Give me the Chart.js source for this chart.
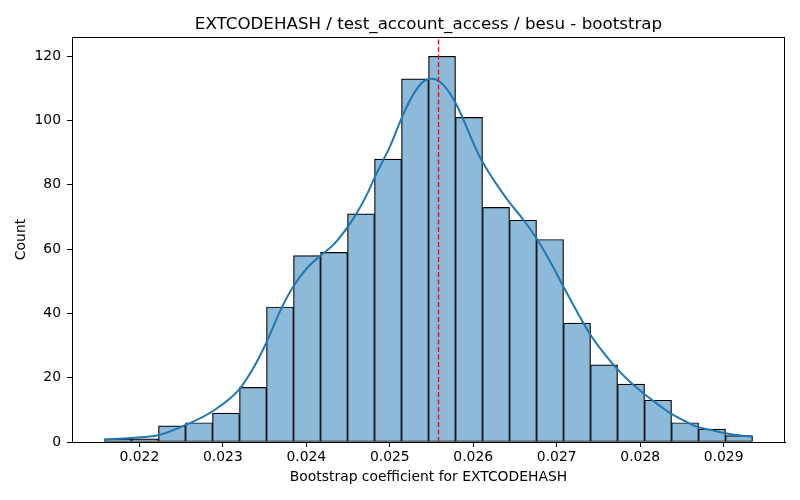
<!DOCTYPE html>
<html>
<head>
<meta charset="utf-8">
<script src="https://cdn.jsdelivr.net/npm/chart.js@4.4.1/dist/chart.umd.min.js"></script>
<style>
  html, body { margin: 0; padding: 0; background: #fff; }
</style>
</head>
<body>
<canvas id="chart" width="800" height="500"></canvas>
<script>
const titleText = 'EXTCODEHASH / test_account_access / besu - bootstrap';
const xLabel = 'Bootstrap coefficient for EXTCODEHASH';
const yLabel = 'Count';

// histogram bins
const binEdges = [
    0.021582, 0.021906, 0.022229, 0.022553, 0.022876, 0.023200, 0.023523, 0.023847,
    0.024170, 0.024494, 0.024817, 0.025141, 0.025464, 0.025788, 0.026111, 0.026435,
    0.026758, 0.027082, 0.027405, 0.027729, 0.028052, 0.028376, 0.028699, 0.029023,
    0.029346
];
const counts = [1, 1, 5, 6, 9, 17, 42, 58, 59, 71, 88, 113, 120, 101, 73, 69, 63, 37, 24, 18, 13, 6, 4, 2];

// kde curve, scaled to counts
const kdeX = [
    0.021582, 0.021901, 0.022223, 0.022546, 0.022868, 0.023191, 0.023374, 0.023514,
    0.023713, 0.023844, 0.024012, 0.024171, 0.024329, 0.024490, 0.024609, 0.024728,
    0.024828, 0.025007, 0.025147, 0.025285, 0.025405, 0.025505, 0.025604, 0.025724,
    0.025843, 0.025963, 0.026082, 0.026201, 0.026321, 0.026440, 0.026596, 0.026751,
    0.026918, 0.027073, 0.027229, 0.027396, 0.027551, 0.027718, 0.027874, 0.028041,
    0.028208, 0.028364, 0.028531, 0.028686, 0.028853, 0.029009, 0.029176, 0.029347
];
const kdeY = [
    0.75, 1.25, 2.1, 5.2, 9.4, 16.2, 23.4, 30.5,
    42.2, 48.4, 54.2, 58.0, 61.5, 66.7, 71.4, 77.1,
    82.8, 92.2, 101.1, 108.3, 112.2, 113.0, 112.0, 108.3,
    102.6, 95.3, 88.5, 83.3, 78.6, 74.3, 69.3, 63.6,
    56.3, 48.7, 41.2, 33.7, 28.1, 22.9, 18.8, 15.1,
    11.8, 8.9, 6.6, 4.7, 3.7, 2.8, 2.1, 1.6
];

const meanValue = 0.025584;

const xTicks = [0.022, 0.023, 0.024, 0.025, 0.026, 0.027, 0.028, 0.029];
const yTicks = [0, 20, 40, 60, 80, 100, 120];
const xMin = 0.021193, xMax = 0.029735;
const yMin = 0, yMax = 126;

const FONT = 'DejaVu Sans';

const bars = counts.map((c, i) => ({x: (binEdges[i] + binEdges[i + 1]) / 2, y: c}));
const kde = kdeX.map((x, i) => ({x, y: kdeY[i]}));

const frameAndTitle = {
    id: 'frameAndTitle',
    afterDraw(chart) {
        const {ctx, chartArea: a} = chart;
        ctx.save();
        ctx.strokeStyle = '#000';
        ctx.lineWidth = 1;
        ctx.strokeRect(Math.round(a.left) + 0.5, Math.round(a.top) + 0.5,
            Math.round(a.right - a.left) - 1, Math.round(a.bottom - a.top));
        ctx.fillStyle = '#000';
        ctx.font = '16.7px "' + FONT + '"';
        ctx.textAlign = 'center';
        ctx.textBaseline = 'alphabetic';
        ctx.fillText(titleText, (a.left + a.right) / 2, 29);
        ctx.restore();
    }
};

new Chart(document.getElementById('chart'), {
    type: 'bar',
    data: {
        datasets: [
            {
                type: 'line', data: [{x: meanValue, y: yMin}, {x: meanValue, y: yMax}],
                borderColor: '#ff0000', borderWidth: 1.3, borderDash: [5, 2.5],
                pointRadius: 0, order: 1
            },
            {
                type: 'line', data: kde, borderColor: '#1f77b4', borderWidth: 2,
                pointRadius: 0, cubicInterpolationMode: 'monotone', order: 2
            },
            {
                type: 'bar', data: bars, backgroundColor: '#8ebad9',
                borderColor: '#000', borderWidth: 1.2, borderSkipped: false,
                barPercentage: 1, categoryPercentage: 1, grouped: false, order: 3
            }
        ]
    },
    options: {
        responsive: false,
        animation: false,
        devicePixelRatio: 1,
        layout: {padding: {top: 37, right: 15, left: 0, bottom: 0}},
        plugins: {legend: {display: false}, tooltip: {enabled: false}, title: {display: false}},
        scales: {
            x: {
                type: 'linear', min: xMin, max: xMax, offset: false,
                afterBuildTicks: s => { s.ticks = xTicks.map(v => ({value: v})); },
                afterFit: s => { s.height = 58; },
                grid: {offset: false, drawOnChartArea: false, drawTicks: true, tickLength: 5, color: '#000'},
                border: {display: true, color: '#000', width: 1},
                ticks: {
                    color: '#000', font: {family: FONT, size: 13.9}, padding: 2,
                    maxRotation: 0, autoSkip: false, callback: v => v.toFixed(3)
                },
                title: {display: true, text: xLabel, color: '#000', font: {family: FONT, size: 13.9},
                    padding: {top: 0, bottom: 14}}
            },
            y: {
                min: yMin, max: yMax,
                afterBuildTicks: s => { s.ticks = yTicks.map(v => ({value: v})); },
                afterFit: s => { s.width = 72; },
                grid: {drawOnChartArea: false, drawTicks: true, tickLength: 5, color: '#000'},
                border: {display: true, color: '#000', width: 1},
                ticks: {color: '#000', font: {family: FONT, size: 13.9}, padding: 6},
                title: {display: true, text: yLabel, color: '#000', font: {family: FONT, size: 13.9},
                    padding: {top: 13, bottom: 0}}
            }
        }
    },
    plugins: [frameAndTitle]
});
</script>
</body>
</html>
